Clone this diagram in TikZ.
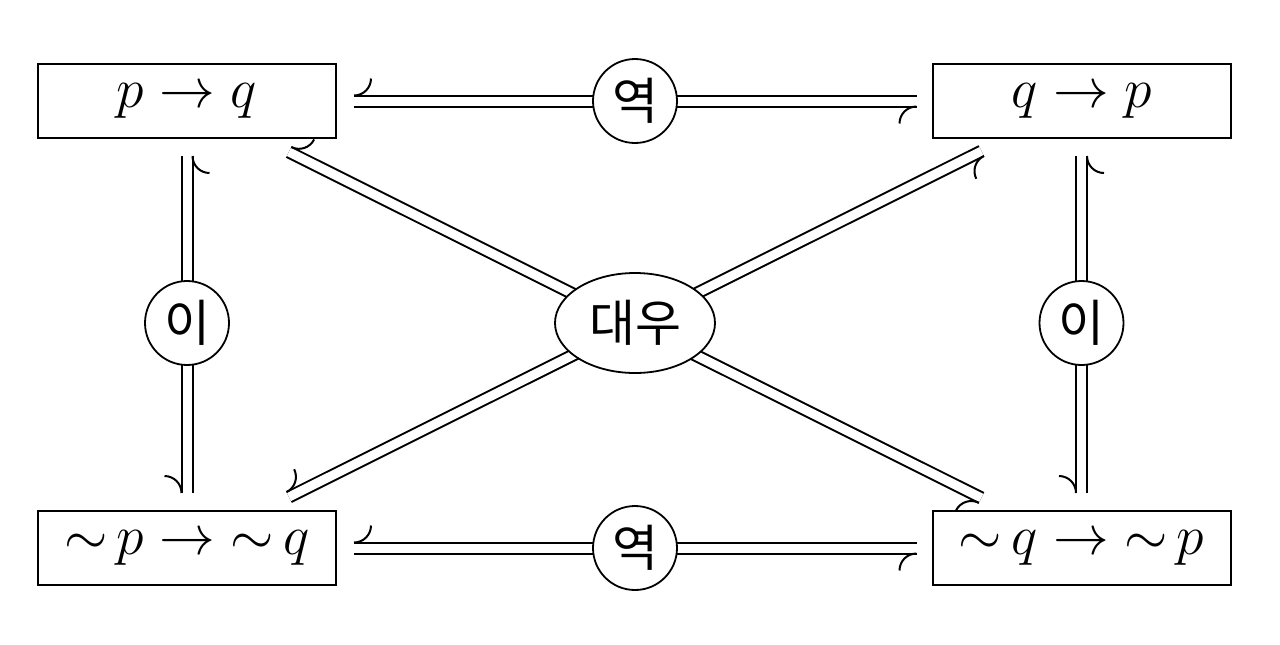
\documentclass[tikz,border=0pt]{standalone}
\usepackage{graphicx}
\usepackage{fontspec}
\newfontfamily\kr{Noto Sans CJK KR}
\usetikzlibrary{calc,shapes.geometric,decorations.markings}
\newcommand{\formula}[1]{\scalebox{1.12}{$#1$}}
\tikzset{
  box/.style={draw, line width=1pt, minimum width=149pt, minimum height=37pt, inner sep=0pt, font=\fontsize{24.88}{28}\selectfont},
  lab/.style={draw, circle, fill=white, line width=0.9pt, minimum size=42pt, inner sep=0pt, font=\kr\fontsize{25}{28}\selectfont},
  elab/.style={draw, ellipse, fill=white, line width=0.9pt, minimum width=80pt, minimum height=50pt, inner sep=0pt, font=\kr\fontsize{25}{28}\selectfont},
  dbl/.style 2 args={double, double distance=4.5pt, line width=1pt, shorten <=#1, shorten >=#2},
  hookpair/.style 2 args={decorate, decoration={markings,
    mark=at position #1 with {\draw[line width=1pt] (0pt,2.75pt) .. controls (4.7pt,2.75pt) and (8.5pt,6.56pt) .. (8.5pt,11.25pt);},
    mark=at position -#2 with {\draw[line width=1pt] (0pt,-2.75pt) .. controls (-4.7pt,-2.75pt) and (-8.5pt,-6.56pt) .. (-8.5pt,-11.25pt);}}},
}
\begin{document}
\begin{tikzpicture}[x=0.5pt,y=-0.5pt]
\useasboundingbox (0,0) rectangle (1280,644);
% boxes
\node[box] (TL) at (187,101) {\formula{p \rightarrow q}};
\node[box] (TR) at (1081.5,101) {\formula{q \rightarrow p}};
\node[box] (BL) at (187,548) {\formula{{\sim}\,p \rightarrow {\sim}\,q}};
\node[box] (BR) at (1081.5,548) {\formula{{\sim}\,q \rightarrow {\sim}\,p}};
% connectors
\draw[dbl={8.5pt}{7.5pt}] (TL) -- (TR);
\path[hookpair={8.5pt}{7.5pt}] (TL) -- (TR);
\draw[dbl={8.5pt}{7.5pt}] (BL) -- (BR);
\path[hookpair={8.5pt}{7.5pt}] (BL) -- (BR);
\draw[dbl={8.5pt}{8.5pt}] (TL) -- (BL);
\path[hookpair={8.5pt}{8.5pt}] (TL) -- (BL);
\draw[dbl={8.5pt}{8.5pt}] (TR) -- (BR);
\path[hookpair={8.5pt}{8.5pt}] (TR) -- (BR);
\draw[dbl={14.5pt}{13.5pt}] (TL) -- (BR);
\path[hookpair={14.5pt}{13.5pt}] (TL) -- (BR);
\draw[dbl={13.5pt}{14.5pt}] (TR) -- (BL);
\path[hookpair={13.5pt}{14.5pt}] (TR) -- (BL);
% labels
\node[lab] (top) at (635,101) {역};
\node[lab] (bot) at (635,548) {역};
\node[lab] (lef) at (187,323) {이};
\node[lab] (rig) at (1081.5,323) {이};
\node[elab] (mid) at (635,323) {대우};
\end{tikzpicture}
\end{document}
